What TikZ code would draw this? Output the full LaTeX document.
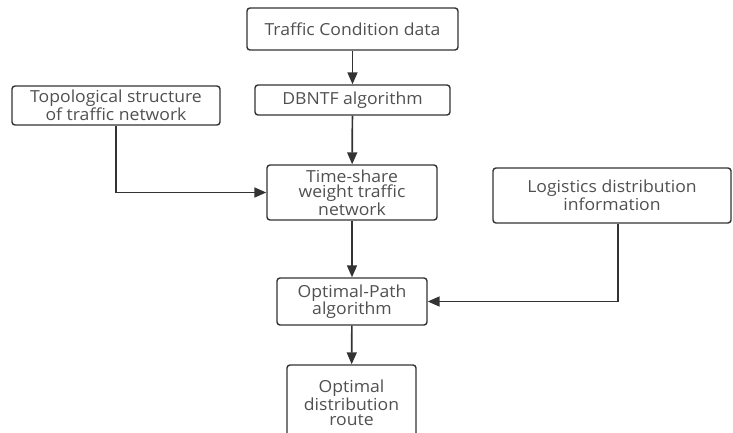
\documentclass[tikz,border=0pt]{standalone}
\usepackage{fontspec}
\setmainfont{Open Sans}[FakeStretch=1.06]
\usetikzlibrary{arrows.meta}
\definecolor{lineclr}{HTML}{333333}
\definecolor{textclr}{HTML}{505050}
\begin{document}
\begin{tikzpicture}[x=1pt,y=-1pt,
  every node/.style={font=\fontsize{16.6}{15.6}\selectfont,text=textclr},
  box/.style={draw=lineclr,line width=1.4pt,rounded corners=3pt,align=center,inner sep=1pt},
  flow/.style={-{Triangle[length=12pt,width=10pt]},draw=lineclr,line width=1.7pt}]
  \useasboundingbox (0,0) rectangle (733,433);
  % main column
  \node[box,minimum width=211pt,minimum height=42pt] (cond) at (352.5,29) {Traffic Condition data};
  \node[box,minimum width=195pt,minimum height=30pt] (dbntf) at (352.5,100) {DBNTF algorithm};
  \node[box,minimum width=170pt,minimum height=55pt] (tsw) at (352,192.5) {Time-share\\weight traffic\\network};
  \node[box,minimum width=150pt,minimum height=47pt] (opath) at (352,301.5) {Optimal-Path\\algorithm};
  \node[box,minimum width=129pt,minimum height=76pt] (route) at (351.5,403) {Optimal\\distribution\\route};
  % side inputs
  \node[box,minimum width=208pt,minimum height=39pt] (topo) at (116,105.5) {Topological structure\\of traffic network};
  \node[box,minimum width=238pt,minimum height=55pt] (logi) at (612,195.5) {Logistics distribution\\information};
  % connectors
  \draw[flow] (cond) -- (dbntf);
  \draw[flow] (dbntf) -- (tsw);
  \draw[flow] (tsw) -- (opath);
  \draw[flow] (opath) -- (route);
  \draw[flow] (topo.south) |- (tsw.west);
  \draw[flow] ([xshift=6pt]logi.south) |- (opath.east);
\end{tikzpicture}
\end{document}
